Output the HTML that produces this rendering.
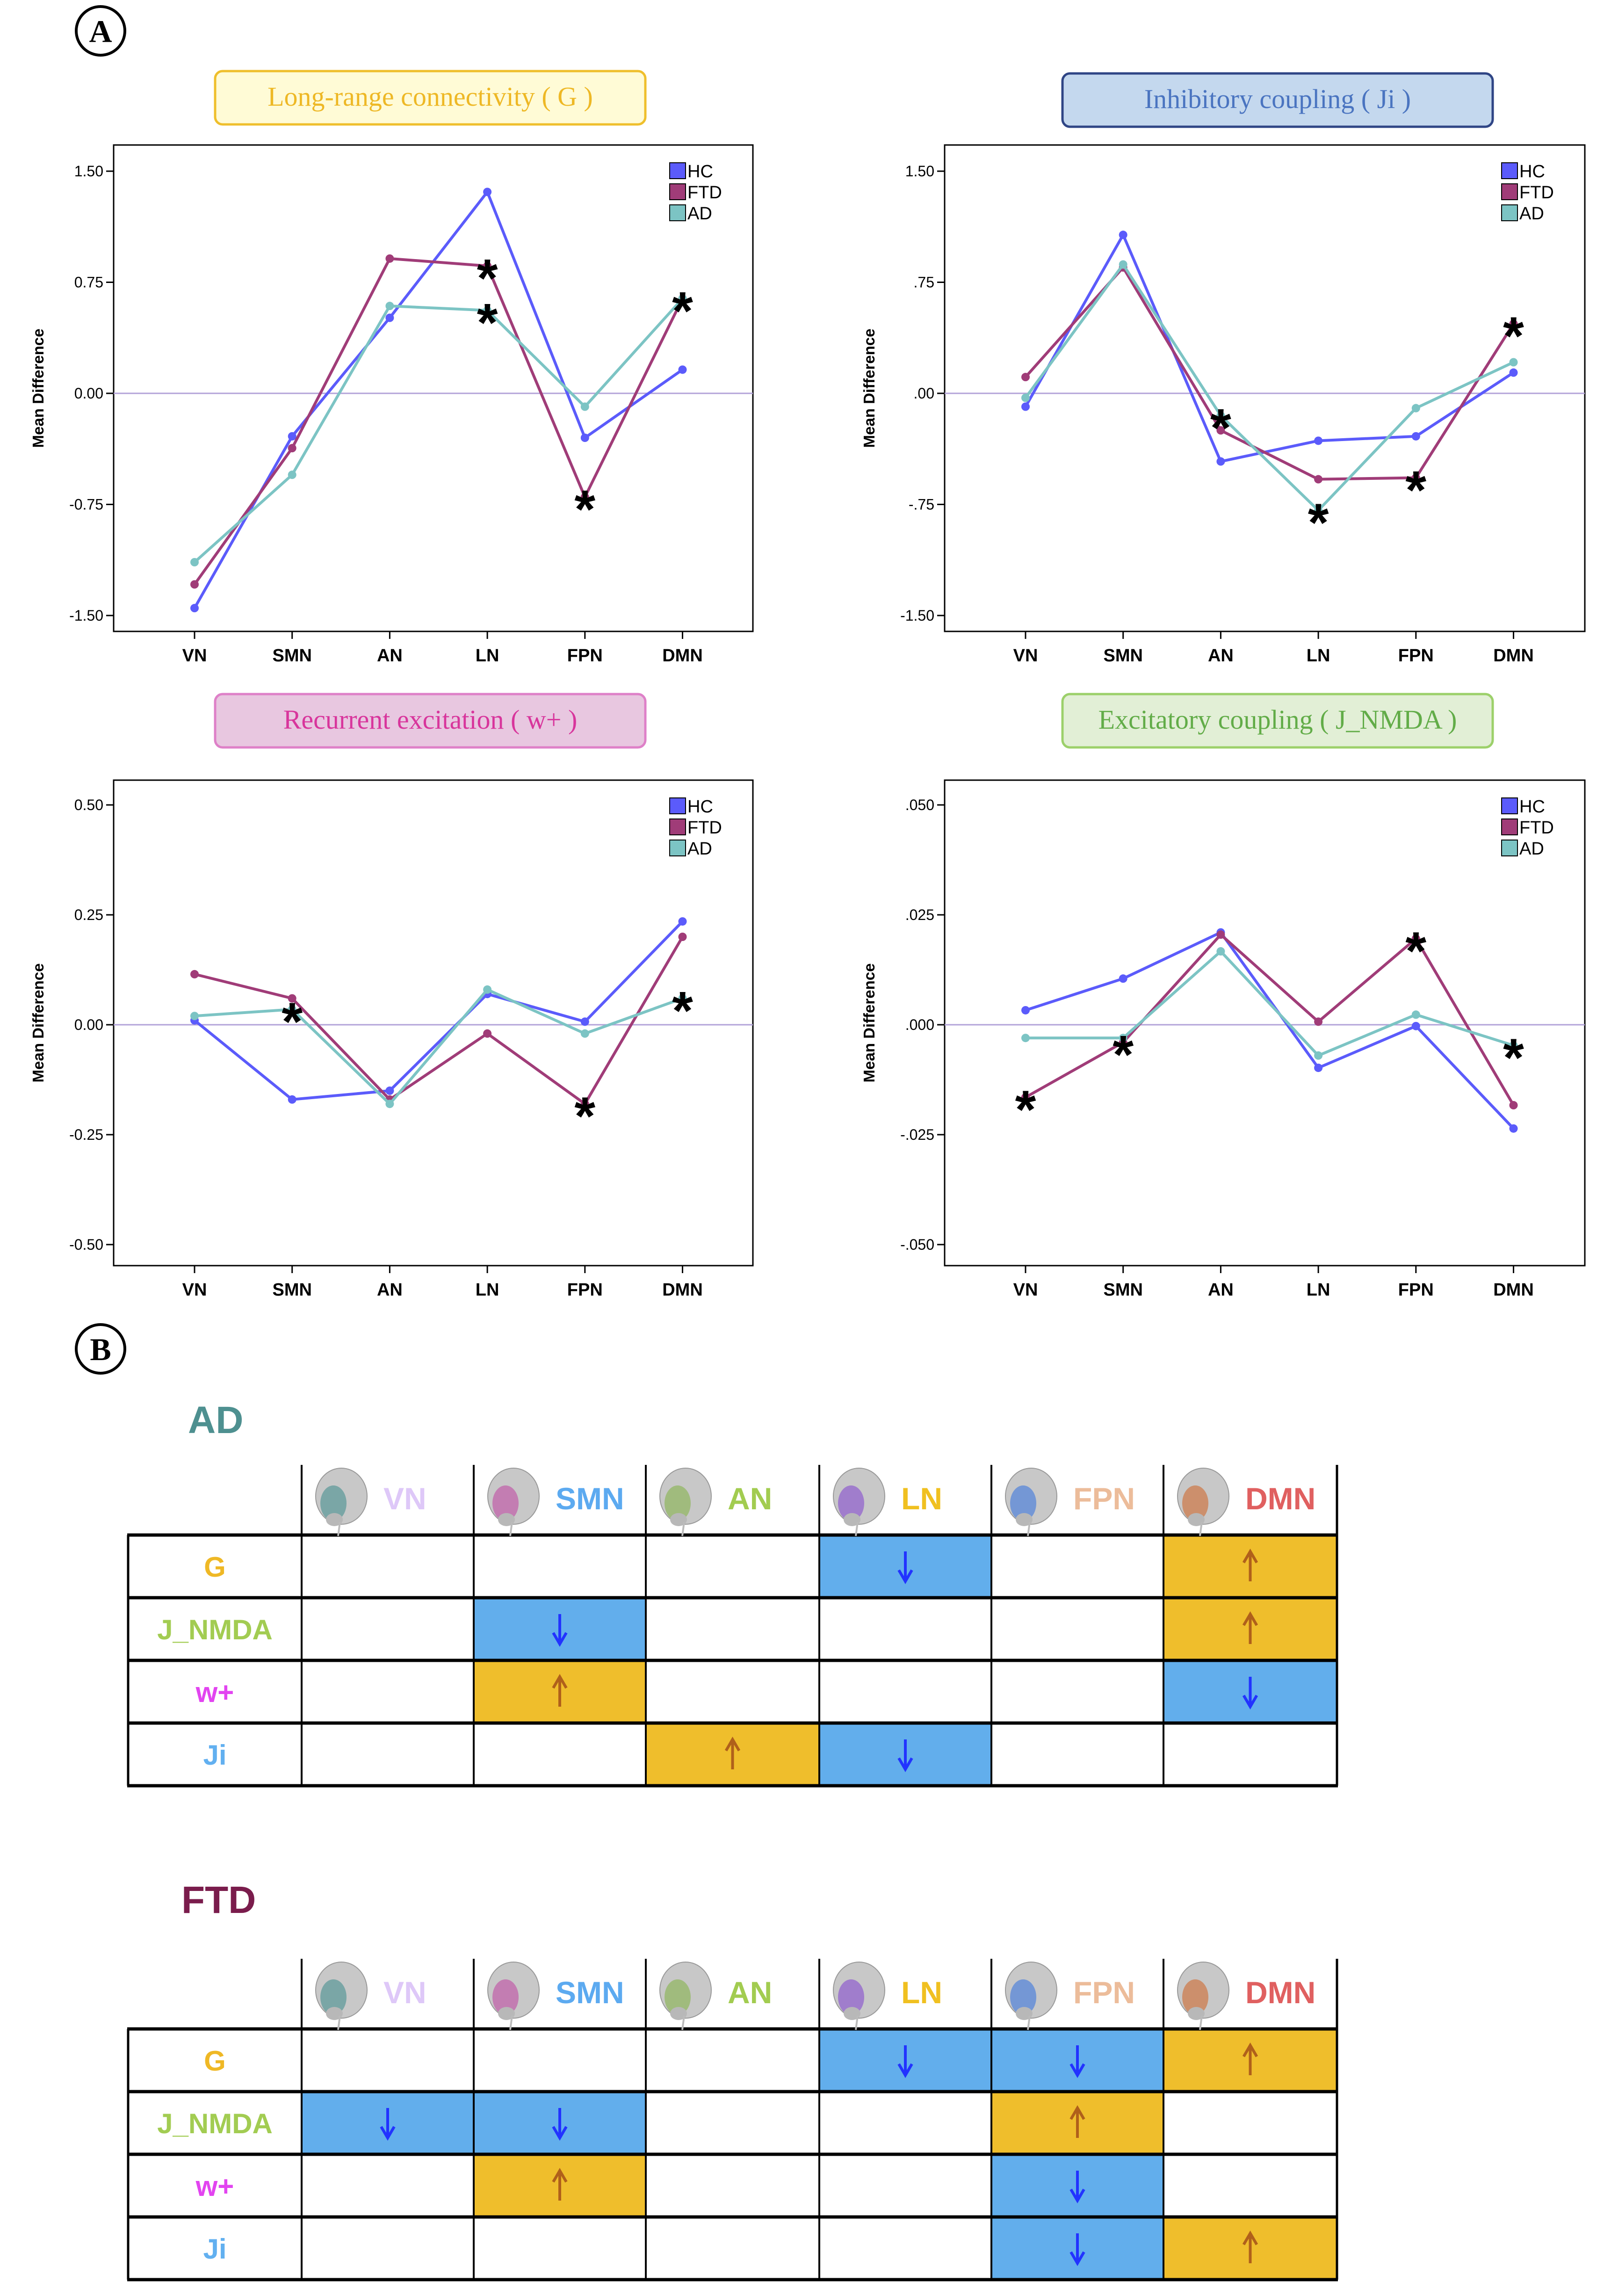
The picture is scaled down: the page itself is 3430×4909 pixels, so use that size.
<!DOCTYPE html>
<html><head><meta charset="utf-8">
<style>
html,body{margin:0;padding:0;background:#fff;}
svg{display:block;}
text{font-family:"Liberation Sans",sans-serif;}
</style></head>
<body>
<svg id="page" width="3430" height="4909" viewBox="0 0 3430 4909" xmlns="http://www.w3.org/2000/svg">
<rect width="3430" height="4909" fill="#fff"/>
<g>
<circle cx="215" cy="66" r="52" fill="none" stroke="#000" stroke-width="6"/>
<text x="215" y="90" font-size="68" font-weight="bold" text-anchor="middle" style="font-family:'Liberation Serif',serif">A</text>
</g>
<g>
<circle cx="215" cy="2884" r="52" fill="none" stroke="#000" stroke-width="6"/>
<text x="215" y="2908" font-size="68" font-weight="bold" text-anchor="middle" style="font-family:'Liberation Serif',serif">B</text>
</g>
<g id="charts"></g>
<g id="tables"></g>
</svg>
<script>
// ---- chart data ----
const categories = ["VN","SMN","AN","LN","FPN","DMN"];
const seriesNames = ["HC","FTD","AD"];
const gHC  = [-1.45,-0.29,0.51,1.36,-0.30,0.16];
const gFTD = [-1.29,-0.37,0.91,0.86,-0.70,0.64];
const gAD  = [-1.14,-0.55,0.59,0.56,-0.09,0.64];
const jiHC  = [-0.09,1.07,-0.46,-0.32,-0.29,0.14];
const jiFTD = [0.11,0.85,-0.25,-0.58,-0.57,0.47];
const jiAD  = [-0.03,0.87,-0.15,-0.79,-0.10,0.21];
const wHC  = [0.01,-0.17,-0.15,0.07,0.007,0.235];
const wFTD = [0.115,0.06,-0.17,-0.02,-0.18,0.20];
const wAD  = [0.02,0.035,-0.18,0.08,-0.02,0.06];
const nHC  = [0.0033,0.0105,0.021,-0.0098,-0.0003,-0.0236];
const nFTD = [-0.0165,-0.004,0.0205,0.0007,0.0196,-0.0183];
const nAD  = [-0.003,-0.003,0.0167,-0.007,0.0023,-0.0047];
const gTicks = [1.5,0.75,0,-0.75,-1.5];
const gTickLabels = ["1.50","0.75","0.00","-0.75","-1.50"];
const jiTickLabels = ["1.50",".75",".00","-.75","-1.50"];
const wTicks = [0.5,0.25,0,-0.25,-0.5];
const wTickLabels = ["0.50","0.25","0.00","-0.25","-0.50"];
const nTicks = [0.05,0.025,0,-0.025,-0.05];
const nTickLabels = [".050",".025",".000","-.025","-.050"];
// stars: [seriesIndex, categoryIndex]
const gStars = [[1,3],[2,3],[1,4],[1,5]];
const jiStars = [[2,2],[2,3],[1,4],[1,5]];
const wStars = [[2,1],[1,4],[2,5]];
const nStars = [[1,0],[1,1],[1,4],[2,5]];

const NS="http://www.w3.org/2000/svg";
function mk(tag,attrs,parent){const e=document.createElementNS(NS,tag);for(const k in attrs)e.setAttribute(k,attrs[k]);if(parent)parent.appendChild(e);return e;}
const colors=["#5b5bfb","#a03c78","#7cc4c4"];

function chart(cfg){
  const root=document.getElementById('charts');
  const g=mk('g',{},root);
  
  
  const tb=mk('g',{},g);
  
  
  mk('rect',{x:cfg.tx,y:cfg.ty,width:920,height:114,rx:16,fill:cfg.tfill,stroke:cfg.tstroke,'stroke-width':5},tb);
  const tt=mk('text',{x:cfg.tx+460,y:cfg.ty+74,'font-size':58,'text-anchor':'middle',fill:cfg.tcolor,style:"font-family:'Liberation Serif',serif"},tb);
  tt.textContent=cfg.title;
  const L=cfg.x0,R=cfg.x1,T=cfg.y0,B=cfg.y1;
  const ymap=v=>cfg.zero-(v/cfg.tmax)*(cfg.zero-cfg.ytop);
  const xmap=i=>L+173+i*208.7;
  mk('rect',{x:L,y:T,width:R-L,height:B-T,fill:'#fff',stroke:'#000','stroke-width':3},g);
  cfg.ticks.forEach((t,i)=>{
    const y=ymap(t);
    mk('line',{x1:L-16,x2:L,y1:y,y2:y,stroke:'#000','stroke-width':3},g);
    const lb=mk('text',{x:L-22,y:y+11,'font-size':32,'text-anchor':'end'},g);
    
    
    lb.textContent=cfg.tickLabels[i];
  });
  mk('line',{x1:L,x2:R,y1:ymap(0),y2:ymap(0),stroke:'#b3a3d9','stroke-width':3},g);
  categories.forEach((c,i)=>{
    const x=xmap(i);
    mk('line',{x1:x,x2:x,y1:B,y2:B+16,stroke:'#000','stroke-width':3},g);
    const lb=mk('text',{x:x,y:B+64,'font-size':38,'font-weight':'bold','text-anchor':'middle'},g);
    
    
    lb.textContent=c;
  });
  const yl=mk('text',{x:0,y:0,'font-size':33,'font-weight':'bold','text-anchor':'middle',transform:`translate(${L-150},${(T+B)/2}) rotate(-90)`},g);
  
  
  yl.textContent='Mean Difference';
  cfg.series.forEach((s,si)=>{
    const sg=mk('g',{},g);
    
    
    const pts=s.map((v,i)=>xmap(i)+','+ymap(v)).join(' ');
    mk('polyline',{points:pts,fill:'none',stroke:colors[si],'stroke-width':6,'stroke-linejoin':'round'},sg);
    s.forEach((v,i)=>{
      const c=mk('circle',{cx:xmap(i),cy:ymap(v),r:9,fill:colors[si]},sg);
      
      
    });
  });
  cfg.stars.forEach(([si,ci])=>{
    const v=cfg.series[si][ci];
    const st=mk('text',{x:xmap(ci),y:ymap(v)+66,'font-size':115,'font-weight':'bold','text-anchor':'middle'},g);
    
    
    st.textContent='*';
  });
  const lg=mk('g',{},g);
  
  
  seriesNames.forEach((n,i)=>{
    const ly=T+38+i*45;
    mk('rect',{x:R-178,y:ly,width:34,height:34,fill:colors[i],stroke:'#000','stroke-width':2},lg);
    const lt=mk('text',{x:R-140,y:ly+31,'font-size':38},lg);
    
    
    lt.textContent=n;
  });
}
const topY={y0:310,y1:1350,zero:841,ytop:366};
const botY={y0:1668,y1:2706,zero:2191,ytop:1721};
chart(Object.assign({name:'chart-long-range-connectivity',title:'Long-range connectivity ( G )',tx:460,ty:152,tfill:'#fffbd6',tstroke:'#efbf2c',tcolor:'#eeb825',x0:243,x1:1610,series:[gHC,gFTD,gAD],ticks:gTicks,tmax:1.5,tickLabels:gTickLabels,stars:gStars},topY));
chart(Object.assign({name:'chart-inhibitory-coupling',title:'Inhibitory coupling ( Ji )',tx:2272,ty:157,tfill:'#c4d8ee',tstroke:'#2f4585',tcolor:'#4a74c0',x0:2020,x1:3389,series:[jiHC,jiFTD,jiAD],ticks:gTicks,tmax:1.5,tickLabels:jiTickLabels,stars:jiStars},topY));
chart(Object.assign({name:'chart-recurrent-excitation',title:'Recurrent excitation ( w+ )',tx:460,ty:1484,tfill:'#e8c7e0',tstroke:'#de80c8',tcolor:'#d8359c',x0:243,x1:1610,series:[wHC,wFTD,wAD],ticks:wTicks,tmax:0.5,tickLabels:wTickLabels,stars:wStars},botY));
chart(Object.assign({name:'chart-excitatory-coupling',title:'Excitatory coupling ( J_NMDA )',tx:2272,ty:1484,tfill:'#e2efd6',tstroke:'#9cd06a',tcolor:'#62ac48',x0:2020,x1:3389,series:[nHC,nFTD,nAD],ticks:nTicks,tmax:0.05,tickLabels:nTickLabels,stars:nStars},botY));

// ---- tables ----
const rowLabels=["G","J_NMDA","w+","Ji"];
const rowColors=["#efb825","#a2cc52","#e244f0","#62b0f0"];
const colColors=["#dec8f8","#5caaf0","#a2cc50","#f0c020","#ecbc9a","#e06060"];
const brainColors=["#3a8a8a","#c040a0","#80b040","#8040d0","#3070e0","#d06020"];
// 1 = down (blue), 2 = up (yellow)
const adCells=[[0,0,0,1,0,2],[0,1,0,0,0,2],[0,2,0,0,0,1],[0,0,2,1,0,0]];
const ftdCells=[[0,0,0,1,1,2],[1,1,0,0,2,0],[0,2,0,0,1,0],[0,0,0,0,1,2]];
function table(name,label,lcolor,lx,ly,top,cells){
  const root=document.getElementById('tables');
  const g=mk('g',{},root);
  
  
  const t=mk('text',{x:lx,y:ly,'font-size':82,'font-weight':'bold',fill:lcolor,style:"font-family:'Liberation Sans Narrow','Liberation Sans',sans-serif"},g);
  
  
  t.textContent=label;
  const xs=[274,645,1013,1381,1752,2120,2488,2859];
  const hTop=top-150, rh=134;
  for(let r=0;r<4;r++)for(let c=0;c<6;c++){
    const v=cells[r][c];
    if(v){
      const x=xs[c+1],y=top+r*rh,w=xs[c+2]-xs[c+1];
      const cell=mk('rect',{x:x,y:y,width:w,height:rh,fill:v===1?'#62aeec':'#efbe2c'},g);
      
      
      const cx=x+w/2,cy=y+rh/2,col=v===1?'#2233ff':'#b0601a';
      const a=mk('g',{},g);
      
      
      if(v===1){
        mk('line',{x1:cx,y1:cy-32,x2:cx,y2:cy+30,stroke:col,'stroke-width':6},a);
        mk('polyline',{points:`${cx-14},${cy+8} ${cx},${cy+32} ${cx+14},${cy+8}`,fill:'none',stroke:col,'stroke-width':6},a);
      }else{
        mk('line',{x1:cx,y1:cy+32,x2:cx,y2:cy-30,stroke:col,'stroke-width':6},a);
        mk('polyline',{points:`${cx-14},${cy-8} ${cx},${cy-32} ${cx+14},${cy-8}`,fill:'none',stroke:col,'stroke-width':6},a);
      }
    }
  }
  for(let r=0;r<=4;r++) mk('line',{x1:272,x2:2861,y1:top+r*rh,y2:top+r*rh,stroke:'#000','stroke-width':7},g);
  xs.forEach((x,i)=>mk('line',{x1:x,x2:x,y1:i===0?top:hTop,y2:top+4*rh,stroke:'#000','stroke-width':i===0||i===7?5:4},g));
  rowLabels.forEach((l,r)=>{
    const tx=mk('text',{x:(xs[0]+xs[1])/2,y:top+r*rh+rh/2+22,'font-size':60,'font-weight':'bold','text-anchor':'middle',fill:rowColors[r],style:"font-family:'Liberation Sans Narrow','Liberation Sans',sans-serif"},g);
    
    
    tx.textContent=l;
  });
  categories.forEach((c,i)=>{
    const x=xs[i+1];
    const b=mk('g',{},g);
    
    
    const by=hTop+72;
    mk('ellipse',{cx:x+85,cy:by-5,rx:55,ry:60,fill:'#c8c8c8',stroke:'#999','stroke-width':2},b);
    mk('ellipse',{cx:x+68,cy:by+10,rx:28,ry:38,fill:brainColors[i],opacity:0.55},b);
    mk('ellipse',{cx:x+70,cy:by+45,rx:18,ry:14,fill:'#b8b8b8'},b);
    mk('line',{x1:x+82,y1:by+50,x2:x+78,y2:by+80,stroke:'#bbb','stroke-width':4},b);
    const h=mk('text',{x:x+175,y:hTop+95,'font-size':66,'font-weight':'bold','text-anchor':'start',fill:colColors[i],style:"font-family:'Liberation Sans Narrow','Liberation Sans',sans-serif"},g);
    
    
    h.textContent=c;
  });
}
table('ad-table','AD','#4e9090',402,3064,3282,adCells);
table('ftd-table','FTD','#7a1c4c',388,4090,4338,ftdCells);
</script>
</body></html>
